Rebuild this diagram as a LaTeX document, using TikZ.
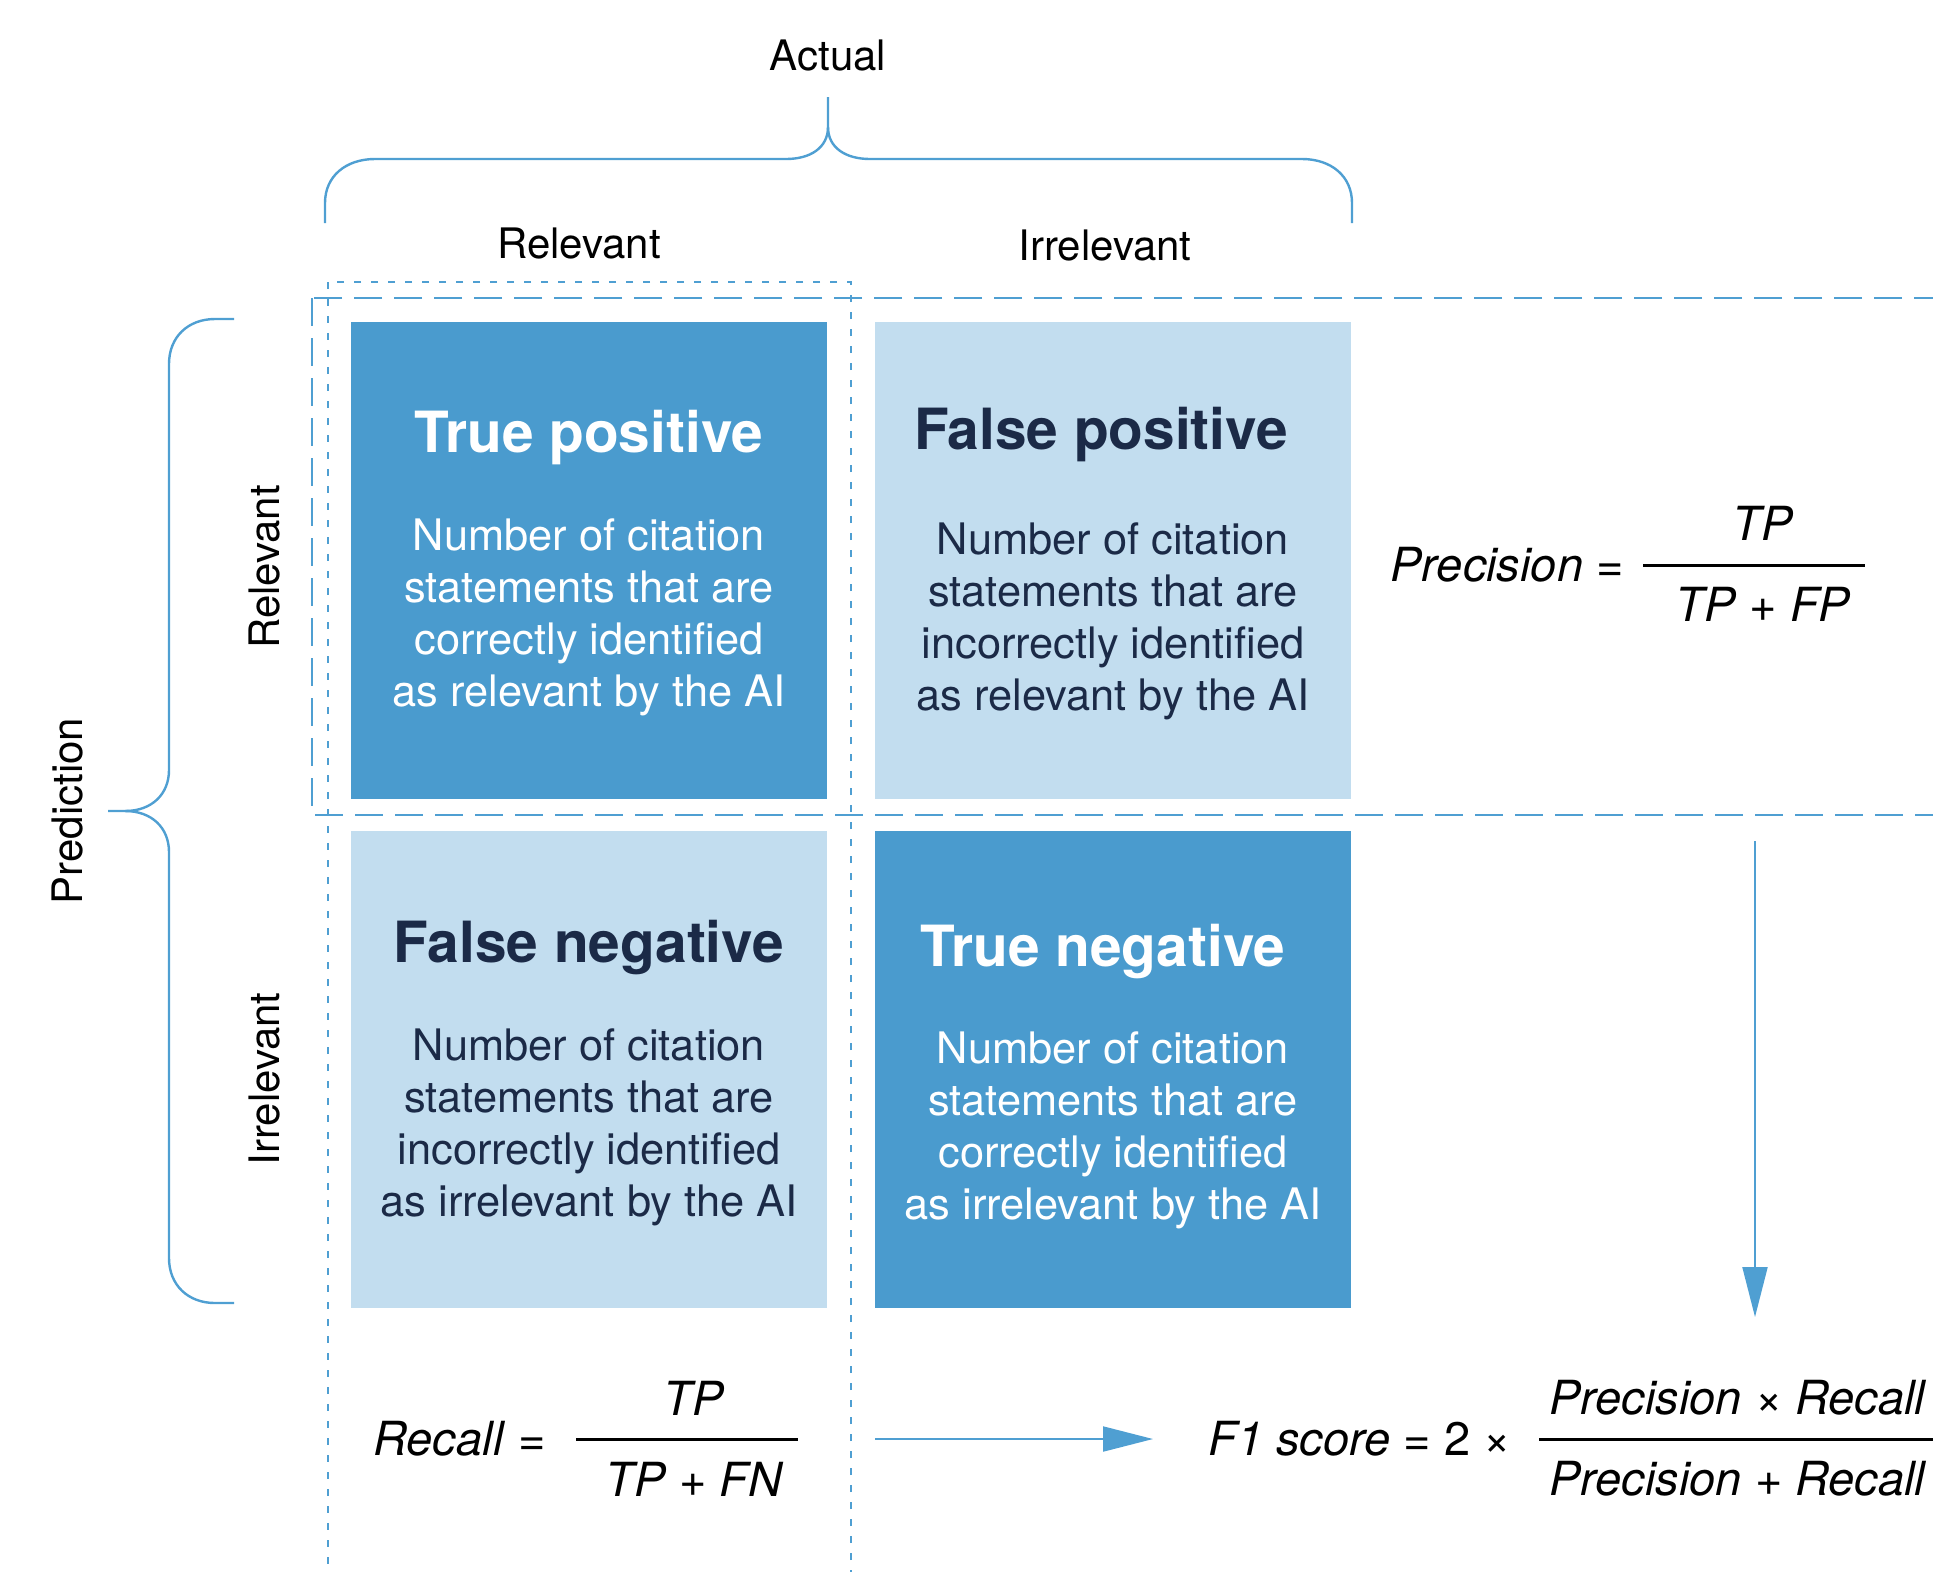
\documentclass[tikz,border=0pt]{standalone}
\usepackage{fontspec}
\setmainfont{TeX Gyre Heros}
\usetikzlibrary{arrows.meta}
\definecolor{darkbox}{HTML}{4A9BCE}
\definecolor{lightbox}{HTML}{C2DDEF}
\definecolor{navy}{HTML}{1B2A47}
\definecolor{lineblue}{HTML}{4F9FD2}
\tikzset{
  cell/.style={draw=none, inner sep=0pt, minimum width=238pt, minimum height=238.5pt},
  darkcell/.style={cell, fill=darkbox},
  lightcell/.style={cell, fill=lightbox},
  celltitle/.style={inner sep=0pt, font=\fontsize{28.4}{32}\selectfont\bfseries},
  cellbody/.style={inner sep=0pt, align=center, font=\fontsize{21.7}{26}\selectfont},
  axislabel/.style={inner sep=0pt, font=\fontsize{21}{25}\selectfont, text=black},
  formula/.style={inner sep=0pt, font=\fontsize{23.5}{28}\selectfont\itshape, text=black},
  bracepath/.style={draw=lineblue, line width=1.2pt},
  rowframe/.style={draw=lineblue, line width=1.1pt, dash pattern=on 14pt off 6pt},
  colframe/.style={draw=lineblue, line width=1.1pt, dash pattern=on 3.5pt off 5pt},
  fracbar/.style={draw=black, line width=1.5pt},
  flow/.style={draw=lineblue, line width=1pt, -{Triangle[length=25pt, width=12.5pt]}}
}
\newcommand{\up}[1]{\textup{#1}}
\begin{document}
\begin{tikzpicture}[x=0.5pt, y=-0.5pt]
\useasboundingbox (0,0) rectangle (1933,1571);
\clip (0,0) rectangle (1933,1571);

% frames
\draw[colframe] (328,282) rectangle (851,1620);
\draw[rowframe] (312,298) rectangle (1990,815);

% cells
\node[darkcell]  (tp) at (589,560.5) {};
\node[lightcell] (fp) at (1113,560.5) {};
\node[lightcell] (fn) at (589,1069.5) {};
\node[darkcell]  (tn) at (1113,1069.5) {};

\node[celltitle, text=white] (tpt) at (589,438) {True positive};
\node[cellbody, text=white] (tpb) at (589,617) {Number of citation\\statements that are\\correctly identified\\as relevant by the AI};

\node[celltitle, text=navy] (fpt) at (1101,435) {False positive};
\node[cellbody, text=navy] (fpb) at (1113,621) {Number of citation\\statements that are\\incorrectly identified\\as relevant by the AI};

\node[celltitle, text=navy] (fnt) at (589,948) {False negative};
\node[cellbody, text=navy] (fnb) at (589,1127) {Number of citation\\statements that are\\incorrectly identified\\as irrelevant by the AI};

\node[celltitle, text=white] (tnt) at (1103,952) {True negative};
\node[cellbody, text=white] (tnb) at (1113,1130) {Number of citation\\statements that are\\correctly identified\\as irrelevant by the AI};

% axis labels
\node[axislabel] (actual) at (828,55) {Actual};
\node[axislabel] (colrel) at (579,243) {Relevant};
\node[axislabel] (colirr) at (1105,245) {Irrelevant};
\node[axislabel, rotate=90] (pred) at (68,811) {Prediction};
\node[axislabel, rotate=90] (rowrel) at (265,567) {Relevant};
\node[axislabel, rotate=90] (rowirr) at (265,1079) {Irrelevant};

% braces
\draw[bracepath] (325,223) -- (325,203) .. controls (325,176) and (346,159) .. (375,159)
  -- (786,159) .. controls (810,159) and (828,148) .. (828,127) -- (828,97);
\draw[bracepath] (828,127) .. controls (828,148) and (846,159) .. (870,159)
  -- (1302,159) .. controls (1331,159) and (1352,176) .. (1352,203) -- (1352,223);
\draw[bracepath] (234,319) -- (215,319) .. controls (188,319) and (169,337) .. (169,364)
  -- (169,770) .. controls (169,794) and (152,811) .. (125,811) -- (108,811);
\draw[bracepath] (125,811) .. controls (152,811) and (169,828) .. (169,852)
  -- (169,1258) .. controls (169,1285) and (188,1303) .. (215,1303) -- (234,1303);

% precision
\node[formula, anchor=east] (preclhs) at (1624,565) {Precision \up{=}};
\node[formula] (precnum) at (1763,523) {TP};
\node[formula] (precden) at (1763,604) {TP \up{+} FP};
\draw[fracbar] (1643,565) -- (1865,565);

% recall
\node[formula, anchor=east] (reclhs) at (546,1439) {Recall \up{=}};
\node[formula] (recnum) at (694,1398) {TP};
\node[formula] (recden) at (694,1479) {TP \up{+} FN};
\draw[fracbar] (576,1439) -- (798,1439);

% F1
\node[formula, anchor=west] (f1lhs) at (1208,1439) {F1 score \up{= 2 ×}};
\node[formula, anchor=west] (f1num) at (1549,1398) {Precision \up{×} Recall};
\node[formula, anchor=west] (f1den) at (1549,1479) {Precision \up{+} Recall};
\draw[fracbar] (1539,1439) -- (1990,1439);

% arrows
\coordinate (hstart) at (875,1439);
\coordinate (hend) at (1153,1439);
\coordinate (vstart) at (1755,841);
\coordinate (vend) at (1755,1317);
\draw[flow] (hstart) -- (hend);
\draw[flow] (vstart) -- (vend);
\end{tikzpicture}
\end{document}
